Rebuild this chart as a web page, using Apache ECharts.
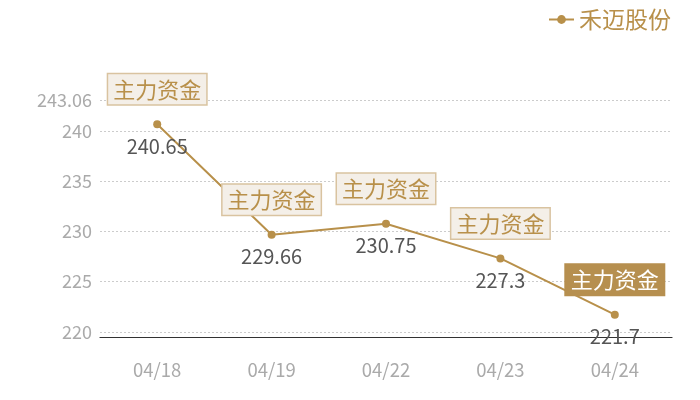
<!DOCTYPE html>
<html>
<head>
<meta charset="utf-8">
<script src="https://cdn.jsdelivr.net/npm/echarts@6/dist/echarts.min.js"></script>
<style>
  html, body { margin: 0; padding: 0; background: #fff; }
  #main { width: 700px; height: 400px; }
</style>
</head>
<body>
<div id="main"></div>
<script>
var seriesName = '禾迈股份';
var markText = '主力资金';
var categories = ['04/18', '04/19', '04/22', '04/23', '04/24'];
var prices = [240.65, 229.66, 230.75, 227.3, 221.7];
// 最后一个标记高亮显示
var highlightIndex = 4;

var gold = '#b8904a';
var font = '"Noto Sans CJK SC", "Noto Sans", sans-serif';

var markData = categories.map(function(c, i) {
  var item = { coord: [c, prices[i]], value: markText };
  if (i === highlightIndex) {
    item.label = { backgroundColor: '#b68f4f', borderColor: '#b68f4f', color: '#fff' };
  }
  return item;
});

var chart = echarts.init(document.getElementById('main'));
chart.setOption({
  animation: false,
  textStyle: { fontFamily: font },
  legend: {
    right: 24,
    top: 3,
    itemWidth: 25,
    itemHeight: 11,
    itemGap: 6,
    textStyle: { color: gold, fontSize: 23, fontFamily: font },
    data: [seriesName]
  },
  grid: { left: 100, right: 28, top: 100, bottom: 63 },
  xAxis: {
    type: 'category',
    data: categories,
    axisLine: { lineStyle: { color: '#333', width: 1.2 } },
    axisTick: { show: false },
    axisLabel: { color: '#aaa', fontSize: 18.5, margin: 24, fontFamily: font }
  },
  yAxis: {
    type: 'value',
    min: function(v) { return +(v.min * 0.99).toFixed(2); },
    max: function(v) { return +(v.max * 1.01).toFixed(2); },
    axisLine: { show: false },
    axisTick: { show: false },
    axisLabel: { color: '#aaa', fontSize: 18, showMinLabel: false, margin: 8, fontFamily: font },
    splitLine: { lineStyle: { color: '#ccc', type: [2, 2] } }
  },
  series: [{
    name: seriesName,
    type: 'line',
    data: prices,
    symbol: 'circle',
    symbolSize: 8,
    itemStyle: { color: gold },
    lineStyle: { color: gold, width: 2 },
    label: {
      show: true,
      position: 'bottom',
      distance: 8,
      color: '#555',
      fontSize: 20,
      fontFamily: font
    },
    markPoint: {
      symbol: 'rect',
      symbolSize: 1,
      itemStyle: { color: 'rgba(0,0,0,0)' },
      label: {
        show: true,
        position: 'inside',
        offset: [0, -35],
        formatter: '{c}',
        color: gold,
        fontSize: 22,
        fontFamily: font,
        backgroundColor: '#f4efe8',
        borderColor: '#d9c3a0',
        borderWidth: 1.5,
        padding: [5, 5, 3, 5]
      },
      data: markData
    }
  }]
});
</script>
</body>
</html>
